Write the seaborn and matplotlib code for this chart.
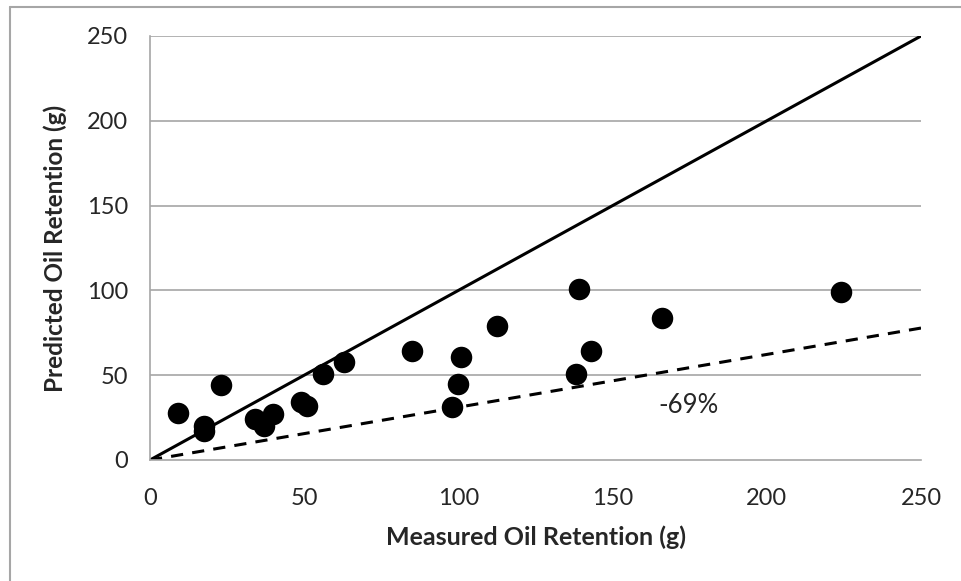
import matplotlib
matplotlib.use("Agg")
import matplotlib.pyplot as plt
import seaborn as sns
import pandas as pd
from matplotlib.lines import Line2D

measured = [9, 17.5, 17.5, 23, 34, 37, 40, 49, 51, 56, 63, 85, 98, 101, 100, 112.5, 138, 139, 143, 166, 224]
predicted = [28, 20, 17, 44, 24, 20, 27, 34, 32, 51, 58, 64, 31, 61, 45, 79, 51, 101, 64, 84, 99]
line_x = [0, 250]
one_to_one = [0, 250]
minus69 = [0, 77.8]
ticks = [0, 50, 100, 150, 200, 250]

df = pd.DataFrame({"Measured": measured, "Predicted": predicted})

sns.set_style("white")
plt.rcParams['font.family'] = ['Lato', 'DejaVu Sans']

fig = plt.figure(figsize=(9.61, 5.81), dpi=100)
ax = fig.add_axes([150/961, 1-460/581, (921-150)/961, (460-36)/581])

for t in ticks[1:]:
    ax.axhline(t, color="#a6a6a6", lw=1.2, zorder=0)

sns.lineplot(x=line_x, y=one_to_one, ax=ax, color="black", lw=2.2, zorder=2)
sns.lineplot(x=line_x, y=minus69, ax=ax, color="black", lw=2.2, linestyle=(0, (4, 3)), zorder=2)
sns.scatterplot(data=df, x="Measured", y="Predicted", ax=ax, color="black", s=240,
                edgecolor="black", linewidth=0, zorder=3)

ax.set_xlim(0, 250)
ax.set_ylim(0, 250)
ax.set_xticks(ticks)
ax.set_yticks(ticks)
ax.set_xticklabels([str(t) for t in ticks], fontsize=17)
ax.set_yticklabels([str(t) for t in ticks], fontsize=17)
ax.tick_params(axis="both", direction="out", length=6, width=1.2, color="#a6a6a6")
ax.tick_params(axis="x", pad=14)
ax.tick_params(axis="y", pad=10)
for s in ["top", "right"]:
    ax.spines[s].set_visible(False)
for s in ["left", "bottom"]:
    ax.spines[s].set_color("#a6a6a6")
    ax.spines[s].set_linewidth(1.2)

ax.set_xlabel("Measured Oil Retention (g)", fontsize=18, fontweight="bold", labelpad=12)
ax.set_ylabel("Predicted Oil Retention (g)", fontsize=17.5, fontweight="bold", labelpad=14)

ax.text(165, 32, "-69%", fontsize=18.5, ha="left", va="center")

fig.add_artist(Line2D([10/961, 10/961], [0, 1-7/581], transform=fig.transFigure, color="#a6a6a6", lw=1.5))
fig.add_artist(Line2D([10/961, 1], [1-7/581, 1-7/581], transform=fig.transFigure, color="#a6a6a6", lw=1.5))

fig.savefig("out.png", dpi=100)
